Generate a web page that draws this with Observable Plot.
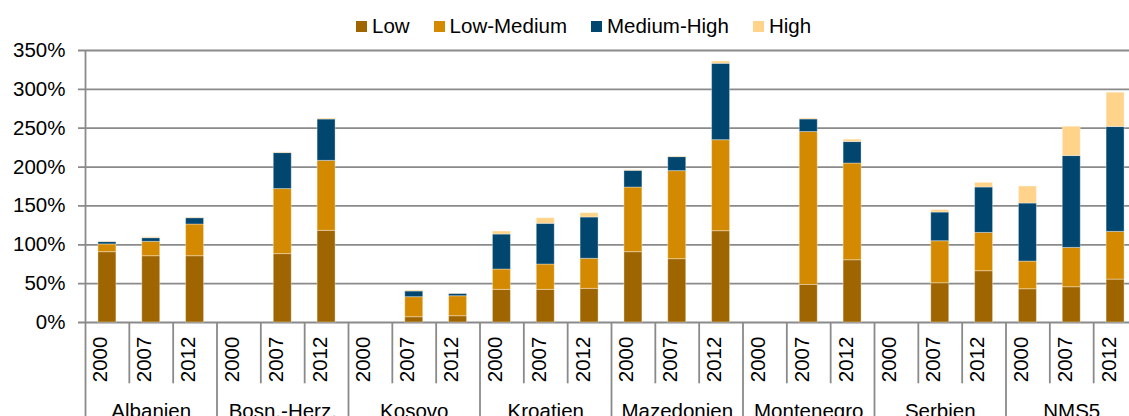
<!DOCTYPE html>
<html>
<head>
<meta charset="utf-8">
<script src="https://cdn.jsdelivr.net/npm/d3@7"></script>
<script src="https://cdn.jsdelivr.net/npm/@observablehq/plot@0.6"></script>
<style>
  html, body { margin: 0; padding: 0; background: #fff; overflow: hidden; width: 1129px; height: 416px; }
  body { font-family: "Liberation Sans", Arial, sans-serif; color: #000; }
  #legend { height: 40px; box-sizing: border-box; padding-top: 11px; padding-left: 356px; display: flex; font-size: 20.5px; line-height: 23px; white-space: nowrap; }
  #legend .item { display: flex; align-items: center; margin-right: 24px; }
  #legend .sw { width: 11px; height: 11px; margin-right: 5px; margin-top: 1px; }
  #chart svg { display: block; overflow: hidden; max-width: none !important; }
</style>
</head>
<body>
<div id="legend"></div>
<div id="chart"></div>
<script>
// ---- data ----
const groups = ["Albanien", "Bosn.-Herz.", "Kosovo", "Kroatien", "Mazedonien", "Montenegro", "Serbien", "NMS5"];
const years = ["2000", "2007", "2012"];
const levels = ["Low", "Low-Medium", "Medium-High", "High"];
const colors = ["#9E6500", "#D48A00", "#00466F", "#FFD38A"];
const yTicks = [0, 50, 100, 150, 200, 250, 300, 350];

// values in % per group, per year (2000, 2007, 2012); null = no data
const low        = [[90.5, 85.3, 85.3], [null, 88, 118], [null, 6.8, 8.1], [42, 42, 43.3], [90.5, 81.5, 117.5], [null, 48.3, 80.1], [null, 50.5, 66], [42.8, 45.4, 55.2]];
const lowMedium  = [[10, 18.5, 40.8], [null, 83.7, 90], [null, 25.8, 25.7], [26.2, 32.6, 38.7], [83.2, 113.3, 117.1], [null, 196.8, 124.5], [null, 54.1, 49.3], [35.6, 50.6, 61.4]];
const mediumHigh = [[3, 4.7, 8.1], [null, 46.3, 53.2], [null, 7.3, 3.1], [45, 52.4, 53.1], [21.5, 18, 98.3], [null, 16.2, 27.6], [null, 36.9, 58.4], [74.7, 118.2, 134.9]];
const high       = [[0.6, 1.3, 0.8], [null, 0.9, 1.3], [null, 1.3, 0.4], [3.9, 7.2, 5.6], [0.8, 0.8, 3], [null, 1.3, 3], [null, 3.1, 6.1], [21.9, 37.7, 44.2]];

// ---- build table ----
const series = [low, lowMedium, mediumHigh, high];
const keyOf = (g, y) => g + "|" + y;
const keys = groups.flatMap(g => years.map(y => keyOf(g, y)));
const rows = [];
groups.forEach((g, gi) => years.forEach((y, yi) => levels.forEach((lv, li) => {
  const v = series[li][gi][yi];
  if (v != null) rows.push({key: keyOf(g, y), group: g, year: y, level: lv, value: v});
})));

// ---- legend ----
const legend = document.getElementById("legend");
levels.forEach((lv, i) => {
  const it = document.createElement("div"); it.className = "item";
  const sw = document.createElement("span"); sw.className = "sw"; sw.style.background = colors[i];
  const tx = document.createElement("span"); tx.textContent = lv;
  it.append(sw, tx); legend.append(it);
});

// ---- chart ----
const W = 1140, H = 376, mL = 85, mR = 3, mT = 10, mB = 94;
const frameH = H - mT - mB;
const step = (W - mL - mR) / keys.length;
const grid = "#8a8a8a";

const yearSepKeys = keys.filter(k => !k.endsWith("|2000"));
const groupSepKeys = keys.filter(k => k.endsWith("|2000") && !k.startsWith(groups[0] + "|"));

const chart = Plot.plot({
  width: W, height: H,
  marginLeft: mL, marginRight: mR, marginTop: mT, marginBottom: mB,
  style: {fontFamily: "Liberation Sans, Arial, sans-serif", fontSize: "20.5px", color: "#000", background: "#fff"},
  x: {domain: keys, paddingInner: 0.59, paddingOuter: 0.295, round: false, axis: null},
  y: {domain: [0, 350], axis: null},
  color: {domain: levels, range: colors},
  marks: [
    Plot.ruleY(yTicks, {y: d => d, stroke: grid, strokeWidth: 1.8, insetLeft: -7}),
    Plot.text(yTicks, {y: d => d, text: d => d + "%", frameAnchor: "left", textAnchor: "end", dx: -20, fill: "#000"}),
    Plot.barY(rows, {x: "key", y: "value", fill: "level", stroke: "#fff", strokeOpacity: 0.35, strokeWidth: 1}),
    // left axis line (also first group separator)
    Plot.ruleX([keys[0]], {x: d => d, dx: -step / 2, stroke: grid, strokeWidth: 1.8, insetBottom: -(mB + 10)}),
    // separators between years
    Plot.ruleX(yearSepKeys, {x: d => d, dx: -step / 2, stroke: grid, strokeWidth: 1.8, insetTop: frameH, insetBottom: -61.3}),
    // separators between groups
    Plot.ruleX(groupSepKeys, {x: d => d, dx: -step / 2, stroke: grid, strokeWidth: 1.8, insetTop: frameH, insetBottom: -(mB + 10)}),
    // year labels
    Plot.text(keys, {x: d => d, text: d => d.split("|")[1], frameAnchor: "bottom", rotate: -90, textAnchor: "start", dy: 59.7, fill: "#000"}),
    // group labels
    Plot.text(groups, {x: g => keyOf(g, "2007"), text: g => g, frameAnchor: "bottom", lineAnchor: "bottom", dy: 95.4, fill: "#000"})
  ]
});
document.getElementById("chart").append(chart);
</script>
</body>
</html>
